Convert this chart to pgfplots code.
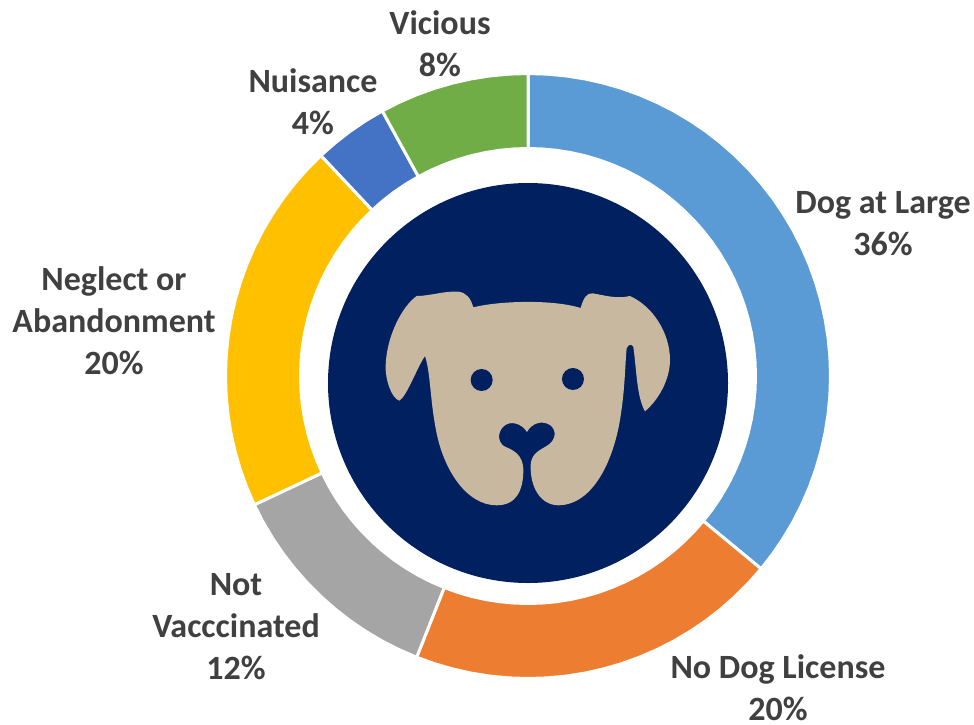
\documentclass[border=0pt]{standalone}
\usepackage{pgfplots}
\pgfplotsset{compat=1.18}
\usepgfplotslibrary{polar}
\usepackage{fontspec}
\setmainfont{Carlito}
\definecolor{c1}{HTML}{5B9BD5}
\definecolor{c2}{HTML}{ED7D31}
\definecolor{c3}{HTML}{A5A5A5}
\definecolor{c4}{HTML}{FFC000}
\definecolor{c5}{HTML}{4472C4}
\definecolor{c6}{HTML}{70AD47}
\definecolor{navy}{HTML}{002060}
\definecolor{tan}{HTML}{C9B8A0}
\definecolor{txt}{HTML}{404040}
\begin{document}
\begin{tikzpicture}[x=1pt,y=1pt]
\useasboundingbox (0,0) rectangle (974,-725);
\begin{polaraxis}[
  at={(528pt,-376pt)}, anchor=origin,
  scale only axis, width=602pt, height=602pt,
  ymin=0, ymax=301, hide axis, clip=false,
  every axis plot/.append style={draw=white, line width=3pt, line join=miter}
]
% Dog at Large 36% (clockwise from the top)
\addplot[fill=c1] coordinates {(90,302.5)(86.4,302.5)(82.8,302.5)(79.2,302.5)(75.6,302.5)(72,302.5)(68.4,302.5)(64.8,302.5)(61.2,302.5)(57.6,302.5)(54,302.5)(50.4,302.5)(46.8,302.5)(43.2,302.5)(39.6,302.5)(36,302.5)(32.4,302.5)(28.8,302.5)(25.2,302.5)(21.6,302.5)(18,302.5)(14.4,302.5)(10.8,302.5)(7.2,302.5)(3.6,302.5)(0,302.5)(-3.6,302.5)(-7.2,302.5)(-10.8,302.5)(-14.4,302.5)(-18,302.5)(-21.6,302.5)(-25.2,302.5)(-28.8,302.5)(-32.4,302.5)(-36,302.5)(-39.6,302.5)
(-39.6,227.5)(-36,227.5)(-32.4,227.5)(-28.8,227.5)(-25.2,227.5)(-21.6,227.5)(-18,227.5)(-14.4,227.5)(-10.8,227.5)(-7.2,227.5)(-3.6,227.5)(0,227.5)(3.6,227.5)(7.2,227.5)(10.8,227.5)(14.4,227.5)(18,227.5)(21.6,227.5)(25.2,227.5)(28.8,227.5)(32.4,227.5)(36,227.5)(39.6,227.5)(43.2,227.5)(46.8,227.5)(50.4,227.5)(54,227.5)(57.6,227.5)(61.2,227.5)(64.8,227.5)(68.4,227.5)(72,227.5)(75.6,227.5)(79.2,227.5)(82.8,227.5)(86.4,227.5)(90,227.5)} -- cycle;
% No Dog License 20%
\addplot[fill=c2] coordinates {(-39.6,302.5)(-43.2,302.5)(-46.8,302.5)(-50.4,302.5)(-54,302.5)(-57.6,302.5)(-61.2,302.5)(-64.8,302.5)(-68.4,302.5)(-72,302.5)(-75.6,302.5)(-79.2,302.5)(-82.8,302.5)(-86.4,302.5)(-90,302.5)(-93.6,302.5)(-97.2,302.5)(-100.8,302.5)(-104.4,302.5)(-108,302.5)(-111.6,302.5)
(-111.6,227.5)(-108,227.5)(-104.4,227.5)(-100.8,227.5)(-97.2,227.5)(-93.6,227.5)(-90,227.5)(-86.4,227.5)(-82.8,227.5)(-79.2,227.5)(-75.6,227.5)(-72,227.5)(-68.4,227.5)(-64.8,227.5)(-61.2,227.5)(-57.6,227.5)(-54,227.5)(-50.4,227.5)(-46.8,227.5)(-43.2,227.5)(-39.6,227.5)} -- cycle;
% Not Vacccinated 12%
\addplot[fill=c3] coordinates {(-111.6,302.5)(-115.2,302.5)(-118.8,302.5)(-122.4,302.5)(-126,302.5)(-129.6,302.5)(-133.2,302.5)(-136.8,302.5)(-140.4,302.5)(-144,302.5)(-147.6,302.5)(-151.2,302.5)(-154.8,302.5)
(-154.8,227.5)(-151.2,227.5)(-147.6,227.5)(-144,227.5)(-140.4,227.5)(-136.8,227.5)(-133.2,227.5)(-129.6,227.5)(-126,227.5)(-122.4,227.5)(-118.8,227.5)(-115.2,227.5)(-111.6,227.5)} -- cycle;
% Neglect or Abandonment 20%
\addplot[fill=c4] coordinates {(-154.8,302.5)(-158.4,302.5)(-162,302.5)(-165.6,302.5)(-169.2,302.5)(-172.8,302.5)(-176.4,302.5)(-180,302.5)(-183.6,302.5)(-187.2,302.5)(-190.8,302.5)(-194.4,302.5)(-198,302.5)(-201.6,302.5)(-205.2,302.5)(-208.8,302.5)(-212.4,302.5)(-216,302.5)(-219.6,302.5)(-223.2,302.5)(-226.8,302.5)
(-226.8,227.5)(-223.2,227.5)(-219.6,227.5)(-216,227.5)(-212.4,227.5)(-208.8,227.5)(-205.2,227.5)(-201.6,227.5)(-198,227.5)(-194.4,227.5)(-190.8,227.5)(-187.2,227.5)(-183.6,227.5)(-180,227.5)(-176.4,227.5)(-172.8,227.5)(-169.2,227.5)(-165.6,227.5)(-162,227.5)(-158.4,227.5)(-154.8,227.5)} -- cycle;
% Nuisance 4%
\addplot[fill=c5] coordinates {(-226.8,302.5)(-230.4,302.5)(-234,302.5)(-237.6,302.5)(-241.2,302.5)
(-241.2,227.5)(-237.6,227.5)(-234,227.5)(-230.4,227.5)(-226.8,227.5)} -- cycle;
% Vicious 8%
\addplot[fill=c6] coordinates {(-241.2,302.5)(-244.8,302.5)(-248.4,302.5)(-252,302.5)(-255.6,302.5)(-259.2,302.5)(-262.8,302.5)(-266.4,302.5)(-270,302.5)
(-270,227.5)(-266.4,227.5)(-262.8,227.5)(-259.2,227.5)(-255.6,227.5)(-252,227.5)(-248.4,227.5)(-244.8,227.5)(-241.2,227.5)} -- cycle;
\end{polaraxis}
% centre disc and dog
\fill[navy] (528,-383) circle[radius=200];
\begin{scope}[shift={(370,-280)},x=0.3333pt,y=-0.3333pt]
\fill[tan] (310,82) .. controls (390,62) and (550,58) .. (632,84)
 .. controls (640,55) and (650,38) .. (668,40)
 .. controls (700,45) and (740,58) .. (780,48)
 .. controls (850,80) and (900,160) .. (900,240)
 .. controls (900,300) and (865,360) .. (825,394)
 .. controls (800,350) and (800,270) .. (790,200)
 .. controls (785,192) and (775,192) .. (770,205)
 .. controls (765,260) and (765,330) .. (750,420)
 .. controls (730,540) and (670,675) .. (565,676)
 .. controls (510,675) and (480,620) .. (482,555)
 .. controls (484,520) and (510,510) .. (530,498)
 .. controls (560,480) and (560,450) .. (540,435)
 .. controls (515,420) and (485,430) .. (471,456)
 .. controls (455,430) and (420,420) .. (400,440)
 .. controls (380,460) and (385,490) .. (405,500)
 .. controls (430,510) and (460,525) .. (460,570)
 .. controls (460,630) and (440,676) .. (380,676)
 .. controls (290,676) and (220,570) .. (198,450)
 .. controls (180,360) and (182,280) .. (165,228)
 .. controls (140,265) and (110,350) .. (88,362)
 .. controls (65,355) and (45,300) .. (47,255)
 .. controls (50,170) and (95,80) .. (140,48)
 .. controls (180,48) and (225,32) .. (265,35)
 .. controls (290,38) and (302,55) .. (310,82) -- cycle;
\fill[navy] (335,300) circle[radius=11pt];
\fill[navy] (609,297) circle[radius=11pt];
\end{scope}
% labels
\tikzset{lab/.style={font=\fontsize{34}{42}\selectfont\bfseries, text=txt, align=center, inner sep=0pt}}
\node[lab] at (883,-224) {Dog at Large\\36\%};
\node[lab] at (778,-688) {No Dog License\\20\%};
\node[lab] at (236,-627) {Not\\Vacccinated\\12\%};
\node[lab] at (114,-321) {Neglect or\\Abandonment\\20\%};
\node[lab] at (313,-102) {Nuisance\\4\%};
\node[lab] at (440,-44) {Vicious\\8\%};
\end{tikzpicture}
\end{document}
